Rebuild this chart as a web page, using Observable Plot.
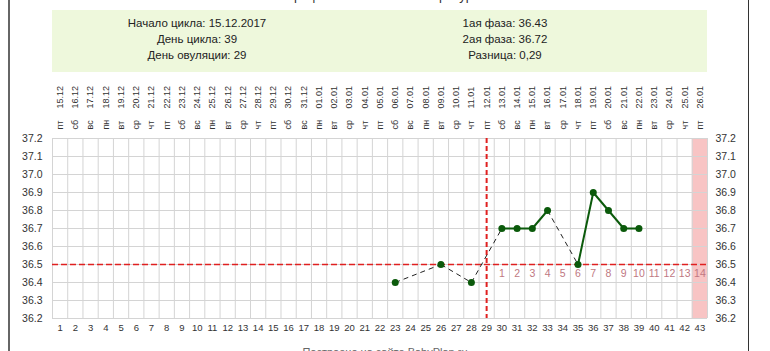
<!DOCTYPE html>
<html>
<head>
<meta charset="utf-8">
<script src="https://cdn.jsdelivr.net/npm/d3@7"></script>
<script src="https://cdn.jsdelivr.net/npm/@observablehq/plot@0.6"></script>
<style>
  body { margin: 0; background: #fff; font-family: "Liberation Sans", Arial, sans-serif; }
  #wrap { position: relative; width: 770px; height: 351px; overflow: hidden; background: #fff; }
  #chart { position: absolute; left: 0; top: 0; }
  .border { position: absolute; top: 0; height: 351px; }
  #hdr { position: absolute; left: 52px; top: 10px; width: 655px; height: 62px; background: #eef8dc; }
  .col { position: absolute; top: 5px; width: 300px; text-align: center; font-size: 11.5px; line-height: 16px; color: #222; }
  #title { position: absolute; left: 0; width: 770px; top: -12px; text-align: center; font-size: 13px; color: #333; }
  #foot { position: absolute; left: 0; width: 770px; top: 346px; text-align: center; font-size: 11px; color: #666; }
</style>
</head>
<body>
<div id="wrap">
  <div id="chart"></div>
  <div id="title">График базальной температуры</div>
  <div id="hdr">
    <div class="col" style="left:-5px">Начало цикла: 15.12.2017<br>День цикла: 39<br>День овуляции: 29</div>
    <div class="col" style="left:303px">1ая фаза: 36.43<br>2ая фаза: 36.72<br>Разница: 0,29</div>
  </div>
  <div id="foot">Построено на сайте BabyPlan.ru</div>
  <div class="border" style="left:8px;width:2px;background:#666"></div>
  <div class="border" style="left:748px;width:1px;background:#333"></div>
</div>
<script>
// ---- data ----
const cycleDays = [1,2,3,4,5,6,7,8,9,10,11,12,13,14,15,16,17,18,19,20,21,22,23,24,25,26,27,28,29,30,31,32,33,34,35,36,37,38,39,40,41,42,43];
const dates = ["15.12","16.12","17.12","18.12","19.12","20.12","21.12","22.12","23.12","24.12","25.12","26.12","27.12","28.12","29.12","30.12","31.12","01.01","02.01","03.01","04.01","05.01","06.01","07.01","08.01","09.01","10.01","11.01","12.01","13.01","14.01","15.01","16.01","17.01","18.01","19.01","20.01","21.01","22.01","23.01","24.01","25.01","26.01"];
const weekdays = ["пт","сб","вс","пн","вт","ср","чт","пт","сб","вс","пн","вт","ср","чт","пт","сб","вс","пн","вт","ср","чт","пт","сб","вс","пн","вт","ср","чт","пт","сб","вс","пн","вт","ср","чт","пт","сб","вс","пн","вт","ср","чт","пт"];
const tempDays = [23, 26, 28, 30, 31, 32, 33, 35, 36, 37, 38, 39];
const temps = [36.4, 36.5, 36.4, 36.7, 36.7, 36.7, 36.8, 36.5, 36.9, 36.8, 36.7, 36.7];
const yTicks = [36.2, 36.3, 36.4, 36.5, 36.6, 36.7, 36.8, 36.9, 37.0, 37.1, 37.2];
const ovulationDay = 29;
const coverLine = 36.5;
const phaseDays = [30,31,32,33,34,35,36,37,38,39,40,41,42,43];
const phaseLabels = ["1","2","3","4","5","6","7","8","9","10","11","12","13","14"];
const plannedEndDay = 43;

// ---- derived tables ----
const labels = cycleDays.map((d, i) => ({day: d, date: dates[i], wd: weekdays[i]}));
const pts = tempDays.map((d, i) => ({day: d, t: temps[i]}));
const segs = [];
for (let i = 0; i < pts.length - 1; i++) {
  segs.push({x1: pts[i].day, y1: pts[i].t, x2: pts[i+1].day, y2: pts[i+1].t, solid: pts[i+1].day - pts[i].day === 1});
}
const phase = phaseDays.map((d, i) => ({day: d, label: phaseLabels[i]}));
const gridX = cycleDays.map(d => d - 0.5).concat([cycleDays[cycleDays.length - 1] + 0.5]);
const yMin = yTicks[0], yMax = yTicks[yTicks.length - 1];

const chart = Plot.plot({
  width: 770,
  height: 351,
  marginLeft: 52,
  marginRight: 63,
  marginTop: 138,
  marginBottom: 33,
  style: {fontFamily: "'Liberation Sans', Arial, sans-serif", background: "transparent", color: "#333"},
  x: {domain: [0.5, 43.5], axis: null},
  y: {domain: [yMin, yMax], axis: null},
  marks: [
    Plot.rect([plannedEndDay], {x1: d => d - 0.5, x2: d => d + 0.5, y1: yMin, y2: yMax, fill: "#f8c4c4"}),
    Plot.ruleX(gridX, {stroke: "#d4d4d4", strokeWidth: 1}),
    Plot.ruleY(yTicks, {stroke: "#d4d4d4", strokeWidth: 1}),
    Plot.ruleY([coverLine], {stroke: "#e02020", strokeWidth: 1.5, strokeDasharray: "6,3"}),
    Plot.ruleX([ovulationDay], {stroke: "#e02020", strokeWidth: 2, strokeDasharray: "5,3"}),
    Plot.text(phase, {x: "day", y: coverLine, text: "label", dy: 9, fill: "#c07882", fontSize: 10.5}),
    Plot.link(segs.filter(s => !s.solid), {x1: "x1", y1: "y1", x2: "x2", y2: "y2", stroke: "#222", strokeWidth: 1, strokeDasharray: "5,4"}),
    Plot.link(segs.filter(s => s.solid), {x1: "x1", y1: "y1", x2: "x2", y2: "y2", stroke: "#0b5a0b", strokeWidth: 2}),
    Plot.dot(pts, {x: "day", y: "t", r: 3.5, fill: "#0b5a0b", stroke: "none"}),
    // left & right y labels
    Plot.text(yTicks, {x: 0.5, y: d => d, text: d => d.toFixed(1), textAnchor: "end", dx: -10, fontSize: 10.5, fill: "#333"}),
    Plot.text(yTicks, {x: 43.5, y: d => d, text: d => d.toFixed(1), textAnchor: "start", dx: 8, fontSize: 10.5, fill: "#333"}),
    // bottom day numbers
    Plot.text(labels, {x: "day", y: yMin, text: d => String(d.day), dy: 9, fontSize: 9.5, fill: "#333"}),
    // top weekday + date labels
    Plot.text(labels, {x: "day", y: yMax, text: "wd", rotate: -90, textAnchor: "start", dy: -9, fontSize: 9, fill: "#333"}),
    Plot.text(labels, {x: "day", y: yMax, text: "date", rotate: -90, textAnchor: "start", dy: -30, fontSize: 9, fill: "#333"})
  ]
});
document.getElementById("chart").appendChild(chart);
</script>
</body>
</html>
